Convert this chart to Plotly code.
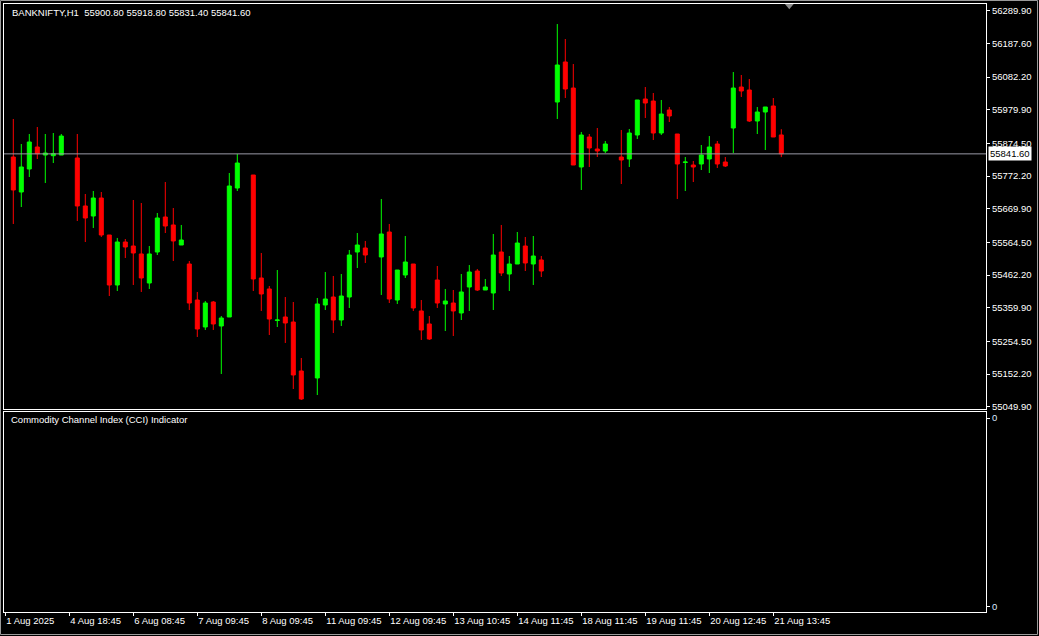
import plotly.graph_objects as go

# ---------------- data ----------------
bar_index = list(range(97))

opens = [55831.8, 55722.2, 55794.2, 55863.1, 55838.0, 55835.9, 55838.0, None,
         55828.7, 55678.4, 55647.0, 55703.4, 55587.5, 55431.0, 55565.6, 55553.1,
         55528.1, 55437.2, 55534.3, 55643.9, 55618.9, 55556.2, 55496.7, 55384.0,
         55299.5, 55377.7, 55302.6, 55330.8, 55734.7, None, 55775.4, 55452.9,
         55418.5, 55319.8, 55330.8, 55315.1, 55161.7, None, 55139.8, 55368.4,
         55393.4, 55321.4, 55393.4, 55534.3, 55546.8, None, 55518.7, 55596.9,
         55384.0, 55462.3, 55496.7, 55349.6, 55308.9, 55446.6, 55371.5, 55374.6,
         55343.3, 55424.7, 55474.8, 55415.3, 55405.9, 55534.3, 55465.4, 55496.7,
         55553.1, 55496.7, 55509.3, None, 56004.0, 56129.3, 56047.8, 55800.5,
         55894.4, 55856.8, 55850.6, None, 55831.8, 55825.5, 55900.7, 56013.4,
         56007.1, 55906.9, 55979.0, 55903.8, 55814.6, 55806.7, 55809.9, 55825.5,
         55872.5, 55816.1, 55922.6, 56051.0, 56041.6, 55944.5, 55972.7, 55991.5,
         55900.8]
highs = [55950.8, 55872.5, 55903.8, 55925.7, 55903.8, 55906.9, 55903.8, None,
         55903.8, 55715.9, 55725.3, 55722.2, 55587.5, 55578.2, 55575.0, 55697.1,
         55687.7, 55553.1, 55656.4, 55753.5, 55672.1, 55618.9, 55506.1, 55409.1,
         55380.9, 55380.9, 55333.9, 55781.7, 55841.2, None, 55775.4, 55531.2,
         55427.8, 55477.9, 55393.4, 55377.7, 55202.4, None, 55390.3, 55471.7,
         55459.2, 55465.4, 55540.6, 55593.8, 55568.8, None, 55700.3, 55622.0,
         55477.9, 55584.4, 55496.7, 55384.0, 55333.9, 55490.5, 55418.5, 55415.3,
         55465.4, 55493.6, 55481.1, 55449.8, 55590.7, 55618.9, 55521.8, 55596.9,
         55581.3, 55584.4, 55521.8, None, 56248.2, 56201.3, 56123.0, 55910.1,
         55903.8, 55922.6, 55881.9, None, 55916.3, 55919.5, 56010.3, 56051.0,
         56032.2, 56010.3, 55988.4, 55903.8, 55831.8, 55819.3, 55869.4, 55897.5,
         55881.9, 55831.8, 56097.9, 56088.6, 56076.0, 55988.4, 55988.4, 56016.5,
         55918.8]
lows = [55622.0, 55675.2, 55769.2, 55825.5, 55750.4, 55813.0, 55838.0, None,
        55631.4, 55565.6, 55609.5, 55581.3, 55396.5, 55412.2, 55515.5, 55431.0,
        55409.1, 55418.5, 55524.9, 55593.8, 55506.1, 55556.2, 55352.7, 55268.2,
        55290.1, 55290.1, 55152.3, 55330.8, 55725.3, None, 55412.2, 55349.6,
        55274.4, 55299.5, 55249.4, 55105.3, 55070.9, None, 55086.5, 55352.7,
        55280.7, 55302.6, 55359.0, 55484.2, 55499.9, None, 55399.7, 55374.6,
        55371.5, 55452.9, 55349.6, 55258.8, 55258.8, 55359.0, 55286.9, 55271.3,
        55321.4, 55349.6, 55412.2, 55415.3, 55352.7, 55459.2, 55412.2, 55496.7,
        55474.8, 55431.0, 55456.0, None, 55950.8, 56016.5, 55806.7, 55728.5,
        55800.5, 55831.8, 55844.3, None, 55747.2, 55800.5, 55888.2, 55953.9,
        55885.0, 55900.7, 55941.4, 55700.3, 55725.3, 55753.5, 55791.1, 55781.7,
        55797.3, 55800.5, 55844.3, 56019.7, 55941.4, 55903.8, 55853.7, 55894.4,
        55831.4]
closes = [55728.5, 55800.5, 55878.8, 55842.1, 55844.3, 55842.1, 55897.5, None,
          55678.4, 55640.8, 55703.4, 55587.5, 55431.0, 55565.6, 55550.0, 55531.2,
          55452.9, 55528.1, 55640.8, 55615.7, 55568.8, 55571.9, 55374.6, 55293.2,
          55374.6, 55308.9, 55327.6, 55741.0, 55813.0, None, 55449.8, 55402.8,
          55324.5, 55321.4, 55312.0, 55149.2, 55074.0, None, 55371.5, 55387.1,
          55321.4, 55396.5, 55524.9, 55556.2, 55524.9, None, 55590.7, 55387.1,
          55477.9, 55503.0, 55359.0, 55290.1, 55261.9, 55374.6, 55380.9, 55349.6,
          55409.1, 55471.7, 55415.3, 55424.7, 55524.9, 55468.6, 55496.7, 55562.5,
          55499.9, 55521.8, 55474.8, None, 56119.9, 56044.7, 55806.7, 55900.7,
          55860.0, 55850.6, 55872.5, None, 55822.4, 55906.9, 56010.3, 56000.9,
          55906.9, 55966.4, 55960.2, 55809.9, 55816.1, 55800.5, 55838.0, 55863.1,
          55809.9, 55803.6, 56047.8, 56038.5, 55944.5, 55972.7, 55988.4, 55894.4,
          55841.6]

price_ticks = [56289.90, 56187.60, 56082.20, 55979.90, 55874.50, 55772.20,
               55669.90, 55564.50, 55462.20, 55359.90, 55254.50, 55152.20, 55049.90]

time_tick_pos = [-1, 7, 15, 23, 31, 39, 47, 55, 63, 71, 79, 87, 95]
time_tick_labels = ["1 Aug 2025", "4 Aug 18:45", "6 Aug 08:45", "7 Aug 09:45",
                    "8 Aug 09:45", "11 Aug 09:45", "12 Aug 09:45", "13 Aug 10:45",
                    "14 Aug 11:45", "18 Aug 11:45", "19 Aug 11:45", "20 Aug 12:45",
                    "21 Aug 13:45"]

symbol = "BANKNIFTY,H1"
last_ohlc = [55900.80, 55918.80, 55831.40, 55841.60]
current_price = 55841.60
shift_marker_bar = 97
indicator_name = "Commodity Channel Index (CCI) Indicator"

# ---------------- figure ----------------
FONT = "Liberation Sans"
FS = 9.5
UP = "#00ff00"
DOWN = "#ff0000"

fig = go.Figure()
fig.add_trace(go.Candlestick(
    x=bar_index, open=opens, high=highs, low=lows, close=closes,
    increasing=dict(line=dict(color=UP, width=1), fillcolor=UP),
    decreasing=dict(line=dict(color=DOWN, width=1), fillcolor=DOWN),
    whiskerwidth=0, xaxis="x", yaxis="y", hoverinfo="skip", showlegend=False,
))
# empty indicator pane
fig.add_trace(go.Scatter(x=[None], y=[None], xaxis="x2", yaxis="y2",
                         mode="lines", showlegend=False, hoverinfo="skip"))

x_range = [-1.1625, 121.5875]
axis_common = dict(showgrid=False, zeroline=False, showline=True, mirror=True,
                   linecolor="white", linewidth=1, automargin=False)

fig.update_layout(
    template="none",
    width=1039, height=636,
    margin=dict(l=4, r=53, t=4, b=24, autoexpand=False),
    paper_bgcolor="black", plot_bgcolor="black",
    boxgap=0.5, boxgroupgap=0,
    font=dict(family=FONT, size=FS, color="white"),
    xaxis=dict(domain=[0, 1], range=x_range, anchor="y", showticklabels=False,
               ticks="", rangeslider=dict(visible=False), **axis_common),
    yaxis=dict(domain=[0.3339, 1], range=[55042.7, 56310.9], side="right",
               tickvals=price_ticks, ticktext=[f"{v:.2f}" for v in price_ticks],
               ticks="outside", ticklen=3, tickcolor="white", tickangle=0,
               tickfont=dict(family=FONT, size=FS, color="white"), **axis_common),
    xaxis2=dict(domain=[0, 1], range=x_range, anchor="y2", matches="x",
                tickvals=time_tick_pos, ticktext=time_tick_labels,
                ticks="outside", ticklen=3, tickcolor="white", tickangle=0,
                ticklabelposition="outside right",
                tickfont=dict(family=FONT, size=FS, color="white"), **axis_common),
    yaxis2=dict(domain=[0, 0.3289], range=[0, 1], side="right", anchor="x2",
                tickvals=[0.027, 0.97], ticktext=["0", "0"],
                ticks="outside", ticklen=3, tickcolor="white", tickangle=0,
                tickfont=dict(family=FONT, size=FS, color="#dfe8ff"), **axis_common),
)

# current price line + label
fig.add_shape(type="line", xref="paper", x0=0, x1=1, yref="y",
              y0=current_price, y1=current_price,
              line=dict(color="#9a9aa6", width=1))
fig.add_annotation(xref="paper", x=1.002, yref="y", y=current_price,
                   text=f"{current_price:.2f}", showarrow=False,
                   xanchor="left", yanchor="middle", bgcolor="white",
                   font=dict(family=FONT, size=FS, color="black"), borderpad=1)

# chart-shift marker
fig.add_shape(type="path", xref="x", yref="paper",
              path=f"M {shift_marker_bar-0.55},1 L {shift_marker_bar+0.55},1 L {shift_marker_bar},0.9915 Z",
              fillcolor="#8a8a8a", line=dict(color="#8a8a8a", width=0))

# titles
fig.add_annotation(xref="paper", yref="paper", x=0.0061, y=0.9868,
                   xanchor="left", yanchor="middle", showarrow=False,
                   text=f"{symbol}  " + " ".join(f"{v:.2f}" for v in last_ohlc),
                   font=dict(family=FONT, size=FS, color="white"))
fig.add_annotation(xref="paper", yref="paper", x=0.0051, y=0.3158,
                   xanchor="left", yanchor="middle", showarrow=False,
                   text=indicator_name,
                   font=dict(family=FONT, size=FS, color="white"))

# outer window frame
fig.add_shape(type="rect", xref="paper", yref="paper",
              x0=-3.5 / 982, x1=1 + 51.5 / 982, y0=-22.5 / 608, y1=1 + 3.5 / 608,
              line=dict(color="#9a9a9a", width=1), fillcolor="rgba(0,0,0,0)",
              layer="below")

fig.write_html("out.html",
               config={"displayModeBar": False},
               post_script="document.body.style.margin='0px';"
                           "document.body.style.background='black';")
